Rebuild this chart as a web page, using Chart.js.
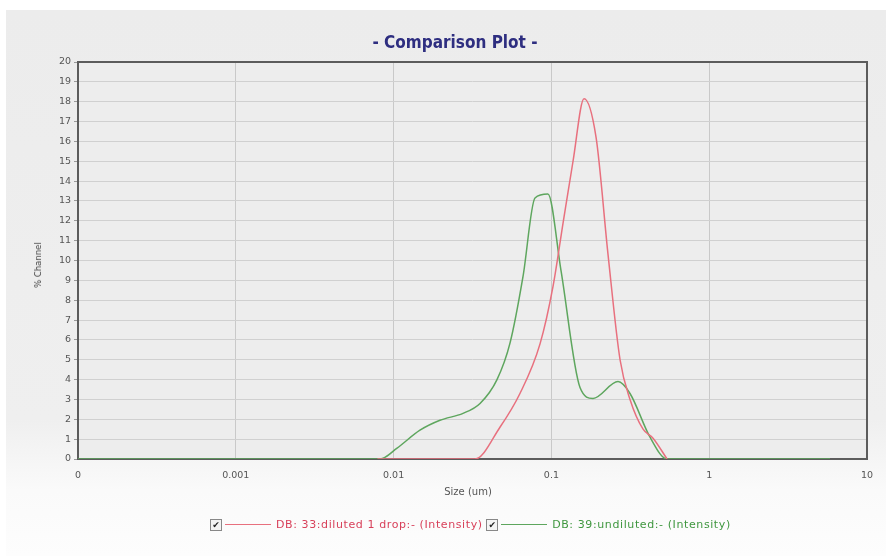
<!DOCTYPE html>
<html>
<head>
<meta charset="utf-8">
<script src="https://cdn.jsdelivr.net/npm/chart.js@4.4.1/dist/chart.umd.min.js"></script>
<style>
  body { margin: 0; background: #fff; }
  #wrap { position: relative; width: 886px; height: 556px; overflow: hidden; }
  #panel { position: absolute; left: 6px; top: 10px; width: 880px; height: 546px;
    background: linear-gradient(#ececec 0%, #efefef 75%, #fafafa 88%, #fdfdfd 100%); }
  #myChart { position: absolute; left: 0; top: 0; }
  .txt { position: absolute; font-family: "DejaVu Sans", sans-serif; color: #555; white-space: nowrap; }
  #title { left: 0; width: 910px; top: 32px; text-align: center; font-family: "DejaVu Sans Condensed", "DejaVu Sans", sans-serif;
    font-weight: bold; font-size: 17px; color: #2e2e80; }
  #ytitle { left: 38px; top: 265px; font-size: 8.5px; color: #444; transform: translate(-50%, -50%) rotate(-90deg); }
  #xtitle { left: 468px; top: 491px; font-size: 10px; transform: translate(-50%, -50%); }
  #legend { left: 210px; top: 517px; font-size: 11px; }
  .item { display: inline-block; vertical-align: middle; }
  .name { letter-spacing: 0.6px; }
  .box { display: inline-block; width: 10px; height: 10px; border: 1px solid #888; background: #f4f4f4;
    font-size: 9px; line-height: 10px; text-align: center; color: #222; vertical-align: middle; }
  .swatch { display: inline-block; width: 46px; height: 0; border-top: 1px solid; vertical-align: middle; margin: 0 5px 0 3px; }
</style>
</head>
<body>
<div id="wrap">
  <div id="panel"></div>
  <canvas id="myChart" width="886" height="556"></canvas>
  <div class="txt" id="title">- Comparison Plot -</div>
  <div class="txt" id="ytitle">% Channel</div>
  <div class="txt" id="xtitle">Size (um)</div>
  <div class="txt" id="legend"></div>
</div>
<script>
// tick labels
let xTicks = [0.0001, 0.001, 0.01, 0.1, 1, 10];
let xTickLabels = ['0', '0.001', '0.01', '0.1', '1', '10'];

// DB: 33 diluted 1 drop
let dilutedSize = [0.0079, 0.0328, 0.0472, 0.0632, 0.0847, 0.1024, 0.1186, 0.1371, 0.161, 0.1919, 0.2285, 0.2723, 0.3149, 0.381, 0.4406, 0.5406];
let dilutedValue = [0, 0, 1.6, 3.3, 5.8, 8.7, 11.9, 15.0, 18.15, 16.2, 10.3, 5.0, 3.0, 1.5, 1.05, 0];

// DB: 39 undiluted
let undilutedSize = [0.0001, 0.0082, 0.01052, 0.01469, 0.01967, 0.02753, 0.0353, 0.04521, 0.0547, 0.0661, 0.0787, 0.0951, 0.115, 0.1518, 0.1836, 0.2644, 0.3149, 0.4217, 0.5406, 5.83];
let undilutedValue = [0, 0, 0.55, 1.45, 1.95, 2.3, 2.8, 4.0, 5.85, 9.2, 13.15, 13.35, 9.5, 3.6, 3.05, 3.9, 3.3, 1.1, 0, 0];

let seriesNames = ['DB: 33:diluted 1 drop:- (Intensity)', 'DB: 39:undiluted:- (Intensity)'];
let seriesColors = ['#e8707e', '#5ea65e'];
let legendTextColors = ['#d8405a', '#3f973f'];

function points(xs, ys) {
  let out = [];
  for (let i = 0; i < xs.length; i++) {
    out.push({ x: xs[i], y: ys[i] });
  }
  return out;
}

let legend = document.getElementById('legend');
seriesNames.forEach((name, i) => {
  legend.innerHTML += '<span class="item"><span class="box">&#10004;</span><span class="swatch" style="border-color:' +
    seriesColors[i] + '"></span><span class="name" style="color:' + legendTextColors[i] + '">' + name + '</span></span> ';
});

const plotFrame = {
  id: 'plotFrame',
  beforeDraw(chart) {
    let a = chart.chartArea;
    let c = chart.ctx;
    c.save();
    c.fillStyle = '#ededed';
    c.fillRect(a.left, a.top, a.right - a.left, a.bottom - a.top);
    c.restore();
  },
  beforeDatasetsDraw(chart) {
    let a = chart.chartArea;
    let c = chart.ctx;
    c.save();
    c.strokeStyle = '#5c5c5c';
    c.lineWidth = 2;
    c.strokeRect(a.left, a.top, a.right - a.left, a.bottom - a.top);
    c.restore();
  }
};

let ctx = document.getElementById('myChart').getContext('2d');
const myChart = new Chart(ctx, {
  type: 'line',
  data: {
    datasets: [{
      label: seriesNames[0],
      data: points(dilutedSize, dilutedValue),
      borderColor: seriesColors[0],
      borderWidth: 1.5,
      pointRadius: 0,
      cubicInterpolationMode: 'monotone'
    }, {
      label: seriesNames[1],
      data: points(undilutedSize, undilutedValue),
      borderColor: seriesColors[1],
      borderWidth: 1.5,
      pointRadius: 0,
      cubicInterpolationMode: 'monotone'
    }]
  },
  options: {
    responsive: false,
    animation: false,
    layout: { padding: { left: 0, right: 19, top: 62, bottom: 0 } },
    plugins: {
      legend: { display: false },
      title: { display: false },
      tooltip: { enabled: false }
    },
    scales: {
      x: {
        type: 'logarithmic',
        min: 0.0001,
        max: 10,
        afterBuildTicks: (scale) => {
          scale.ticks = xTicks.map(v => ({ value: v }));
        },
        afterFit: (scale) => { scale.height = 97; },
        grid: { color: '#c9c9c9', drawTicks: false },
        border: { display: false },
        ticks: {
          padding: 11,
          color: '#555',
          font: { family: 'DejaVu Sans', size: 9.5 },
          maxRotation: 0,
          autoSkip: false,
          callback: (v) => {
            let i = xTicks.indexOf(v);
            return i >= 0 ? xTickLabels[i] : '';
          }
        }
      },
      y: {
        min: 0,
        max: 20,
        afterFit: (scale) => { scale.width = 78; },
        grid: { color: '#d0d0d0', tickColor: '#999', tickLength: 4 },
        border: { display: false },
        ticks: {
          stepSize: 1,
          padding: 3,
          color: '#555',
          font: { family: 'DejaVu Sans', size: 9.5 }
        }
      }
    }
  },
  plugins: [plotFrame]
});
</script>
</body>
</html>
